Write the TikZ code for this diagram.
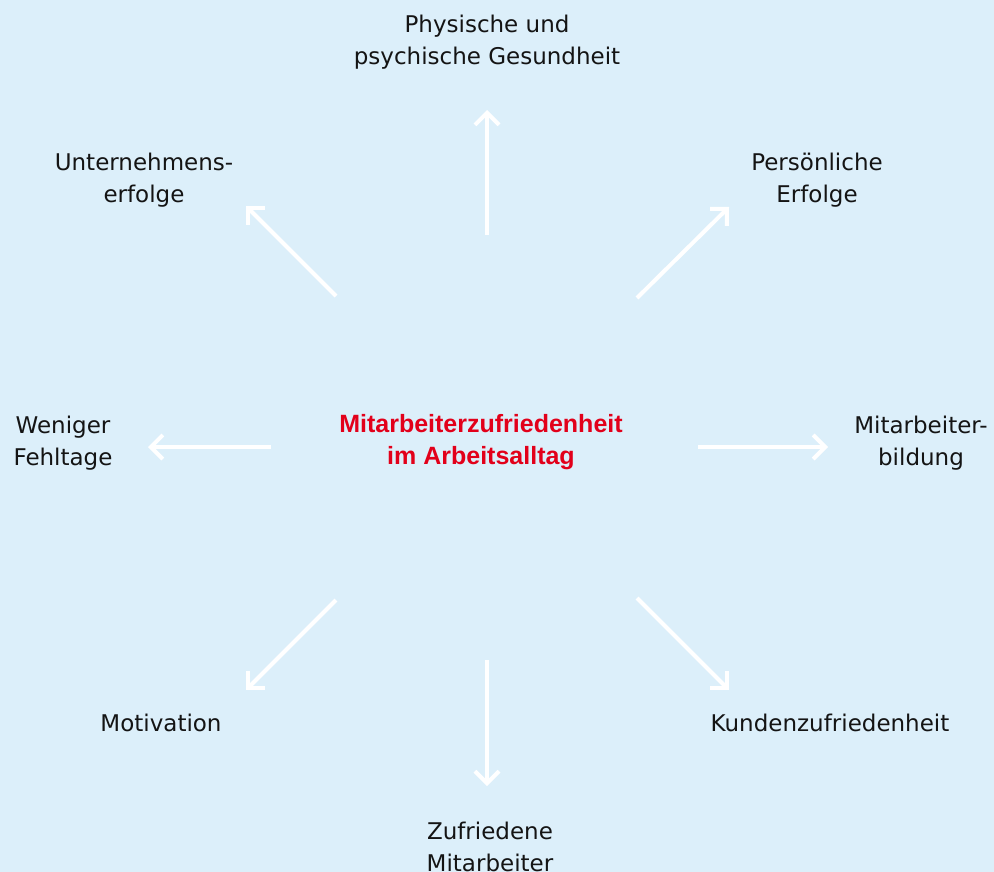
\documentclass[tikz,border=0pt]{standalone}
\usepackage{fontspec}
\setmainfont{DejaVu Sans}
\newfontfamily\ctrfont{Liberation Sans}
\usetikzlibrary{arrows.meta}
\definecolor{bgblue}{RGB}{220,239,250}
\definecolor{accred}{RGB}{226,0,26}
\definecolor{txt}{RGB}{20,20,20}
\tikzset{
  lbl/.style={align=center, text=txt, inner sep=0pt, font=\fontsize{23}{32}\selectfont},
  ctr/.style={align=center, text=accred, inner sep=0pt, font=\ctrfont\fontsize{25}{32}\selectfont\bfseries},
  arr/.style={draw=white, line width=4pt, miter limit=10, -{Straight Barb[length=12pt, width=24pt, line join=miter, line cap=butt]}}
}
\begin{document}
\begin{tikzpicture}[x=1pt, y=-1pt]
\fill[bgblue] (0,0) rectangle (994,872);
\useasboundingbox (0,0) rectangle (994,872);

\node[ctr] (center) at (481,442) {Mitarbeiterzufriedenheit\\im Arbeitsalltag};

\node[lbl] (n) at (487,42) {Physische und\\psychische Gesundheit};
\node[lbl] (nw) at (144,180) {Unternehmens-\\erfolge};
\node[lbl] (ne) at (817,180) {Persönliche\\Erfolge};
\node[lbl] (w) at (63,443) {Weniger\\Fehltage};
\node[lbl] (e) at (921,443) {Mitarbeiter-\\bildung};
\node[lbl] (sw) at (161,723) {Motivation};
\node[lbl] (se) at (830,723) {Kundenzufriedenheit};
\node[lbl] (s) at (490,847) {Zufriedene\\Mitarbeiter};

\coordinate (n0) at (487,235);  \coordinate (n1) at (487,110);
\coordinate (ne0) at (637,298); \coordinate (ne1) at (729,207);
\coordinate (e0) at (698,447);  \coordinate (e1) at (828,447);
\coordinate (se0) at (637,598); \coordinate (se1) at (729,690);
\coordinate (s0) at (487,660);  \coordinate (s1) at (487,786);
\coordinate (sw0) at (336,600); \coordinate (sw1) at (246,690);
\coordinate (w0) at (271,447);  \coordinate (w1) at (148,447);
\coordinate (nw0) at (336,296); \coordinate (nw1) at (246,206);

\draw[arr] (n0) -- (n1);
\draw[arr] (ne0) -- (ne1);
\draw[arr] (e0) -- (e1);
\draw[arr] (se0) -- (se1);
\draw[arr] (s0) -- (s1);
\draw[arr] (sw0) -- (sw1);
\draw[arr] (w0) -- (w1);
\draw[arr] (nw0) -- (nw1);
\end{tikzpicture}
\end{document}
